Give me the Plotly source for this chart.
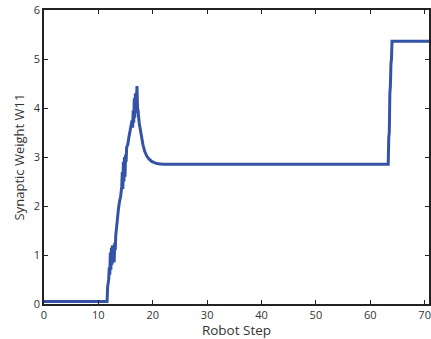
import plotly.graph_objects as go

steps = [0, 11.6, 11.7, 11.9, 12.0, 12.1, 12.2, 12.3, 12.4, 12.5, 12.6, 12.7, 12.8, 12.9, 13.0,
         13.1, 13.2, 13.3, 13.4, 13.5, 13.7, 13.9, 14.1, 14.3, 14.4, 14.5, 14.6, 14.7, 14.8,
         14.9, 15.0, 15.1, 15.2, 15.4, 15.6, 15.8, 16.0, 16.2, 16.3, 16.4, 16.5, 16.6, 16.7,
         16.8, 16.9, 17.0, 17.1, 17.2, 17.3, 17.5, 17.7, 17.9, 18.2, 18.5, 18.9, 19.3, 19.8,
         20.4, 21.0, 22.0, 23.5, 63.3, 63.4, 63.5, 63.6, 63.7, 63.8, 63.9, 64.0, 72]
weight = [0.05, 0.05, 0.35, 0.5, 0.75, 0.6, 1.05, 0.7, 1.15, 0.8, 1.2, 0.9, 1.2, 0.85, 1.25,
          1.1, 1.4, 1.55, 1.7, 1.8, 1.95, 2.1, 2.2, 2.4, 2.7, 2.35, 2.9, 2.5, 3.0,
          2.6, 3.05, 2.9, 3.2, 3.25, 3.4, 3.5, 3.6, 3.75, 3.6, 3.95, 3.7, 4.2, 3.8,
          4.3, 3.9, 4.4, 4.45, 4.0, 3.95, 3.7, 3.55, 3.4, 3.25, 3.12, 3.02, 2.96, 2.91,
          2.88, 2.86, 2.85, 2.85, 2.85, 3.4, 3.5, 4.3, 4.45, 4.9, 5.0, 5.36, 5.36]

x_ticks = [0, 10, 20, 30, 40, 50, 60, 70]
y_ticks = [0, 1, 2, 3, 4, 5, 6]

fig = go.Figure()
fig.add_trace(go.Scatter(x=steps, y=weight, mode="lines",
                         line=dict(color="#3553a6", width=3), showlegend=False))

axis_common = dict(showgrid=False, zeroline=False, showline=True, linecolor="#222",
                   linewidth=1.5, mirror="allticks", ticks="inside", ticklen=4,
                   tickcolor="#222", tickwidth=1,
                   tickfont=dict(family="Open Sans", size=11, color="#333"))

fig.update_layout(
    width=431, height=339,
    margin=dict(l=44, r=0, t=10, b=35),
    paper_bgcolor="white", plot_bgcolor="white",
    xaxis=dict(range=[0, 70.8], tickvals=x_ticks,
               title=dict(text="Robot Step", standoff=5,
                          font=dict(family="Open Sans", size=13.5, color="#333")),
               **axis_common),
    yaxis=dict(range=[0, 6], tickvals=y_ticks,
               title=dict(text="Synaptic Weight W11", standoff=6,
                          font=dict(family="Open Sans", size=13, color="#333")),
               **axis_common),
)
fig.write_html("out.html")
